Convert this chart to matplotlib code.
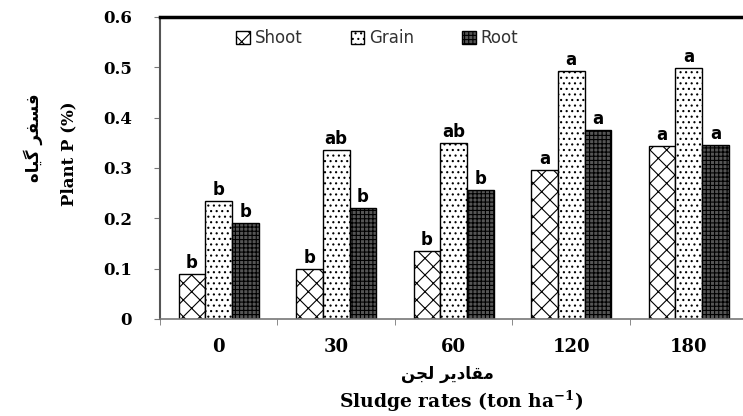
import numpy as np
import matplotlib.pyplot as plt

plt.rcParams['mathtext.fontset'] = 'custom'
plt.rcParams['mathtext.rm'] = 'DejaVu Serif:bold'
plt.rcParams['mathtext.default'] = 'rm'
plt.rcParams['hatch.linewidth'] = 0.8

# data
rates = ['0', '30', '60', '120', '180']
shoot = [0.09, 0.10, 0.135, 0.296, 0.343]
grain = [0.235, 0.335, 0.35, 0.492, 0.499]
root = [0.191, 0.221, 0.256, 0.375, 0.345]
shoot_sig = ['b', 'b', 'b', 'a', 'a']
grain_sig = ['b', 'ab', 'ab', 'a', 'a']
root_sig = ['b', 'b', 'b', 'a', 'a']

serif = 'DejaVu Serif'
fig = plt.figure(figsize=(7.43, 4.16), dpi=100)
ax = fig.add_axes([0.2153, 0.2332, 0.7907, 0.726])

x = np.arange(len(rates))
w = 0.227
b1 = ax.bar(x - w, shoot, w, color='white', edgecolor='black', hatch='xx', linewidth=1, label='Shoot')
b2 = ax.bar(x, grain, w, color='white', edgecolor='black', hatch='...', linewidth=1, label='Grain')
b3 = ax.bar(x + w, root, w, color='#555', edgecolor='black', hatch='++++', linewidth=1, label='Root')

for bars, sig in [(b1, shoot_sig), (b2, grain_sig), (b3, root_sig)]:
    for r, s in zip(bars, sig):
        ax.annotate(s, (r.get_x() + r.get_width() / 2, r.get_height()), xytext=(0, 1.5),
                    textcoords='offset points', ha='center', va='bottom',
                    fontsize=12, fontweight='bold', family='DejaVu Sans')

ax.set_xlim(-0.5, 4.5)
ax.set_ylim(0, 0.6)
ax.set_yticks([0, 0.1, 0.2, 0.3, 0.4, 0.5, 0.6])
ax.set_yticklabels(['0', '0.1', '0.2', '0.3', '0.4', '0.5', '0.6'])
ax.set_xticks(x)
ax.set_xticklabels(rates)
ax.set_xticks(np.arange(-0.5, 5, 1), minor=True)
ax.tick_params(axis='x', which='major', length=0, pad=14)
ax.tick_params(axis='x', which='minor', length=4, direction='out', color='#777')
ax.tick_params(axis='y', length=4, direction='out', color='#777', pad=16)
for lab in ax.get_xticklabels():
    lab.set_family(serif)
    lab.set_fontweight('bold')
    lab.set_fontsize(13)
for lab in ax.get_yticklabels():
    lab.set_family(serif)
    lab.set_fontweight('bold')
    lab.set_fontsize(12)

ax.spines['top'].set_linewidth(2.5)
ax.spines['left'].set_color('#555')
ax.spines['left'].set_linewidth(1.5)
ax.spines['bottom'].set_color('#777')
ax.spines['bottom'].set_linewidth(1.2)
ax.spines['right'].set_visible(False)

leg = ax.legend(loc='upper center', bbox_to_anchor=(0.37, 1.01), ncol=3, frameon=False,
                handlelength=0.8, handleheight=0.8, handletextpad=0.3, columnspacing=2.9,
                prop={'family': 'DejaVu Sans', 'size': 12})
for t in leg.get_texts():
    t.set_color('#333')

# Persian labels (presentation forms, visual order)
fig.text(0.045, 0.668, '\ufee9\ufe8e\ufbff\ufb94 \ufeae\ufed4\ufeb4\ufed3', rotation=90,
         ha='center', va='center', family='DejaVu Sans', fontsize=12, fontweight='bold')
fig.text(0.093, 0.63, 'Plant P (%)', rotation=90, ha='center', va='center',
         family=serif, fontsize=12, fontweight='bold')
fig.text(0.602, 0.1, '\ufee6\ufea0\ufedf \ufeae\ufbfe\ufea9\ufe8e\ufed8\ufee3',
         ha='center', va='center', family='DejaVu Sans', fontsize=12, fontweight='bold')
fig.text(0.621, 0.005, r'Sludge rates (ton ha$^{-1}$)', ha='center', va='bottom',
         family=serif, fontsize=13.5, fontweight='bold')

fig.savefig('out.png', dpi=100)
